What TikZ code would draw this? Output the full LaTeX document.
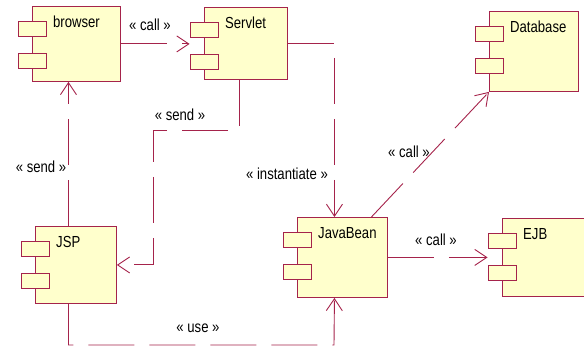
\documentclass[tikz,border=0pt]{standalone}
\usepackage{fontspec}
\setmainfont{Liberation Sans}[FakeStretch=0.82]
\usetikzlibrary{arrows.meta}

\definecolor{umlline}{RGB}{165,35,75}
\definecolor{umlfill}{RGB}{255,255,204}

\tikzset{
  comp/.style={draw=umlline, fill=umlfill, line width=0.9pt, inner sep=0pt},
  stub/.style={draw=umlline, fill=umlfill, line width=0.9pt, inner sep=0pt,
    minimum width=28pt, minimum height=15pt},
  stereo/.style={font=\fontsize{16}{18}\selectfont, inner sep=0pt, anchor=base},
  dep/.style={draw=umlline, line width=0.9pt, dash pattern=on 46pt off 15pt,
    -{Straight Barb[length=12pt,width=16pt]}},
}

% name, x, y (top left), width, height, text
\newcommand{\component}[6]{%
  \node[comp, anchor=north west, minimum width=#4pt, minimum height=#5pt] (#1) at (#2,#3) {};
  \node[stub, anchor=north] (#1-s1) at ([yshift=-15pt]#1.north west) {};
  \node[stub, anchor=north] (#1-s2) at ([yshift=-47pt]#1.north west) {};
  \node[stereo, anchor=base west] (#1-t) at ([xshift=21pt,yshift=-22pt]#1.north west) {#6};
}

\begin{document}
\begin{tikzpicture}[x=1pt,y=-1pt]
  \useasboundingbox (0,0) rectangle (584,347);

  \component{browser}{32}{6}{88}{75}{browser}
  \component{Servlet}{204}{7}{83}{72}{Servlet}
  \component{Database}{489}{11}{89}{80}{Database}
  \component{JSP}{35}{226}{81}{77}{JSP}
  \component{JavaBean}{297}{217}{90}{80}{JavaBean}
  \component{EJB}{502}{218}{90}{78}{EJB}

  \coordinate (turn1) at (153,130);
  \coordinate (turn2) at (334,345);

  \draw[dep] (browser.east) -- (browser.east -| Servlet-s1.west);
  \draw[dep] (Servlet.east) -| ([xshift=-8pt]JavaBean.north);
  \draw[dep] ([xshift=-7pt]Servlet.south) |- (turn1) |- (JSP.east);
  \draw[dep] ([xshift=-7.5pt]JSP.north) -- ([xshift=-7.5pt]JSP.north |- browser.south);
  \draw[dep] ([xshift=-7.5pt]JSP.south) |- (turn2) -- ([xshift=-8pt]JavaBean.south);
  \draw[dep] ([xshift=29pt]JavaBean.north) -- (Database.south west);
  \draw[dep] (JavaBean.east) -- (JavaBean.east -| EJB-s1.west);

  \node[stereo] (callA) at (150,31) {« call »};
  \node[stereo] (sendA) at (180,121) {« send »};
  \node[stereo] (sendB) at (41,173) {« send »};
  \node[stereo] (inst) at (287,180) {« instantiate »};
  \node[stereo] (use) at (198,333) {« use »};
  \node[stereo] (callB) at (409,158) {« call »};
  \node[stereo] (callC) at (436,246) {« call »};
\end{tikzpicture}
\end{document}
